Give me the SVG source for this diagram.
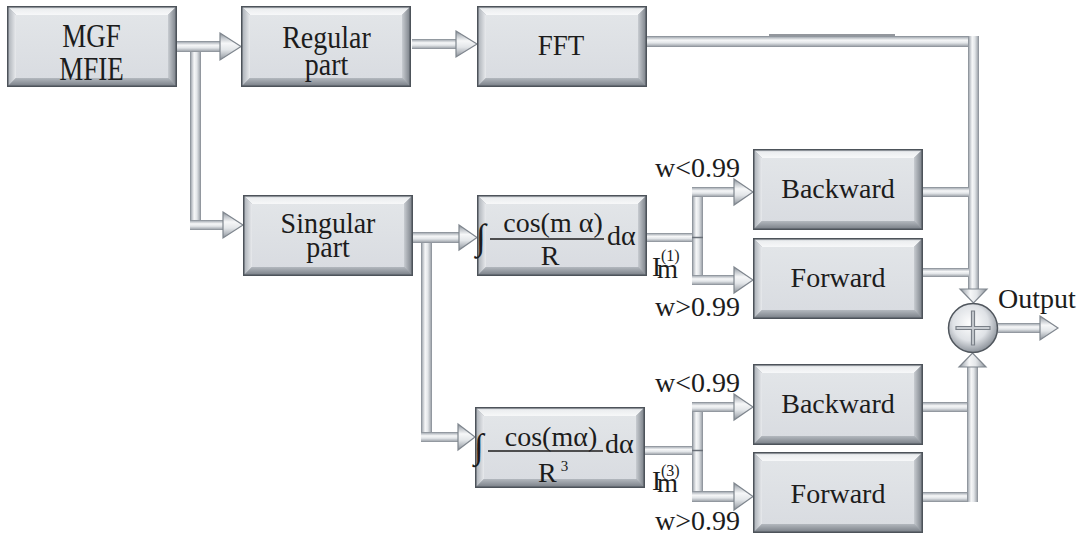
<svg xmlns="http://www.w3.org/2000/svg" xmlns:xlink="http://www.w3.org/1999/xlink" width="1081" height="535" viewBox="0 0 1081 535">
<style>
.t{font-family:"Liberation Serif","Times New Roman",serif;font-size:28px;fill:#1c1c1c}
.m{text-anchor:middle}
.ph{fill:url(#pipeH)}
.pv{fill:url(#pipeV)}
.ah{fill:url(#pipeH);stroke:#7f868e;stroke-width:1.2;stroke-linejoin:miter}
.av{fill:url(#pipeV);stroke:#7f868e;stroke-width:1.2;stroke-linejoin:miter}
.frac{stroke:#1c1c1c;stroke-width:1.5}
</style>
<defs>
<linearGradient id="pipeH" x1="0" y1="0" x2="0" y2="1">
<stop offset="0" stop-color="#7f868e"/><stop offset="0.15" stop-color="#b9bec4"/><stop offset="0.38" stop-color="#f6f7f8"/><stop offset="0.62" stop-color="#e3e6e9"/><stop offset="0.85" stop-color="#b0b5bb"/><stop offset="1" stop-color="#858b93"/>
</linearGradient>
<linearGradient id="pipeV" x1="0" y1="0" x2="1" y2="0">
<stop offset="0" stop-color="#7f868e"/><stop offset="0.15" stop-color="#b9bec4"/><stop offset="0.38" stop-color="#f6f7f8"/><stop offset="0.62" stop-color="#e3e6e9"/><stop offset="0.85" stop-color="#b0b5bb"/><stop offset="1" stop-color="#858b93"/>
</linearGradient>
<linearGradient id="bevTop" x1="0" y1="0" x2="0" y2="1"><stop offset="0" stop-color="#b4b9bf"/><stop offset="0.35" stop-color="#eceef0"/><stop offset="1" stop-color="#f7f8f9"/></linearGradient>
<linearGradient id="bevLeft" x1="0" y1="0" x2="1" y2="0"><stop offset="0" stop-color="#a3a9b0"/><stop offset="1" stop-color="#e8eaed"/></linearGradient>
<linearGradient id="bevRight" x1="0" y1="0" x2="1" y2="0"><stop offset="0" stop-color="#c8ccd1"/><stop offset="1" stop-color="#737981"/></linearGradient>
<linearGradient id="bevBot" x1="0" y1="0" x2="0" y2="1"><stop offset="0" stop-color="#b3b8be"/><stop offset="1" stop-color="#737981"/></linearGradient>
<linearGradient id="face" x1="0" y1="0" x2="0" y2="1"><stop offset="0" stop-color="#e2e5e8"/><stop offset="1" stop-color="#d9dce1"/></linearGradient>
<radialGradient id="sumG" cx="0.45" cy="0.4" r="0.6"><stop offset="0" stop-color="#ffffff"/><stop offset="0.6" stop-color="#dfe2e6"/><stop offset="1" stop-color="#8e949c"/></radialGradient>
<g id="box">
<rect x="0" y="0" width="170" height="81" fill="#9ba1a9"/>
<polygon points="0,0 170,0 161,9 9,9" fill="url(#bevTop)"/>
<polygon points="0,0 9,9 9,72 0,81" fill="url(#bevLeft)"/>
<polygon points="170,0 170,81 161,72 161,9" fill="url(#bevRight)"/>
<polygon points="0,81 9,72 161,72 170,81" fill="url(#bevBot)"/>
<rect x="9" y="9" width="152" height="63" fill="url(#face)"/>
<rect x="0.75" y="0.75" width="168.5" height="79.5" fill="none" stroke="#4d535a" stroke-width="1.5"/>
</g>
</defs>
<rect width="1081" height="535" fill="#ffffff"/>

<g id="connectors">
<!-- MGF -> Regular -->
<rect class="ph" x="176" y="41" width="45" height="11"/>
<polygon class="ah" points="220,33 241,46.5 220,60"/>
<!-- MGF -> Singular -->
<rect class="pv" x="190" y="52" width="11" height="178"/>
<rect class="ph" x="190" y="220" width="34" height="10"/>
<polygon class="ah" points="223,212 243,225 223,238"/>
<!-- Regular -> FFT -->
<rect class="ph" x="412" y="39" width="45" height="10"/>
<polygon class="ah" points="456,31 477,44 456,57"/>
<!-- FFT -> sum -->
<line x1="769" y1="35" x2="895" y2="35" stroke="#6f757c" stroke-width="1.5"/>
<rect class="ph" x="647" y="36" width="332" height="11"/>
<rect class="pv" x="968" y="36" width="11" height="254"/>
<polygon class="av" points="960,289 973.5,303 987,289"/>
<!-- Singular -> Int1 -->
<rect class="ph" x="412" y="232" width="48" height="11"/>
<polygon class="ah" points="459,225 477,237.5 459,250"/>
<!-- Singular -> Int2 -->
<rect class="pv" x="421" y="243" width="11" height="199"/>
<rect class="ph" x="421" y="432" width="38" height="10"/>
<polygon class="ah" points="458,424 475,437 458,450"/>
<!-- Int1 -> split -->
<rect class="ph" x="647" y="233" width="51" height="9"/>
<rect class="pv" x="692" y="187" width="11" height="98"/>
<rect class="ph" x="692" y="187" width="43" height="10"/>
<polygon class="ah" points="734,179 753,192 734,205"/>
<rect class="ph" x="692" y="275" width="43" height="10"/>
<polygon class="ah" points="734,267 753,280 734,293"/>
<line x1="692" y1="237.5" x2="703" y2="237.5" stroke="#6a7078" stroke-width="1.5"/>
<!-- Int2 -> split -->
<rect class="ph" x="645" y="446" width="53" height="9"/>
<rect class="pv" x="692" y="402" width="11" height="100"/>
<rect class="ph" x="692" y="402" width="43" height="10"/>
<polygon class="ah" points="734,394 753,407 734,420"/>
<rect class="ph" x="692" y="491" width="43" height="11"/>
<polygon class="ah" points="734,483 753,496.5 734,510"/>
<line x1="692" y1="450.5" x2="703" y2="450.5" stroke="#6a7078" stroke-width="1.5"/>
<!-- outputs to sum -->
<rect class="ph" x="923" y="187" width="46" height="10"/>
<rect class="ph" x="923" y="268" width="46" height="9"/>
<rect class="ph" x="923" y="402" width="45" height="10"/>
<rect class="ph" x="923" y="492" width="45" height="10"/>
<rect class="pv" x="967" y="366" width="11" height="136"/>
<polygon class="av" points="959,367 972.5,353 986,367"/>
<!-- Output -->
<rect class="ph" x="998" y="323" width="43" height="10"/>
<polygon class="ah" points="1040,316 1058,328 1040,340"/>
</g>

<g id="node-mgf">
<use href="#box" x="7" y="6"/>
<text class="t m" transform="translate(91.5,47) scale(1,1.28)" style="font-size:27px">MGF</text>
<text class="t m" transform="translate(91.5,80) scale(1,1.28)" style="font-size:27px">MFIE</text>
</g>
<g id="node-regular">
<use href="#box" x="241" y="6"/>
<text class="t m" transform="translate(326.5,48) scale(1,1.12)">Regular</text>
<text class="t m" transform="translate(326.5,75) scale(1,1.12)">part</text>
</g>
<g id="node-fft">
<use href="#box" x="477" y="6"/>
<text class="t m" transform="translate(561,55) scale(1,1.1)" style="font-size:27px">FFT</text>
</g>
<g id="node-singular">
<use href="#box" x="243" y="195"/>
<text class="t m" transform="translate(328,233) scale(1,1.08)">Singular</text>
<text class="t m" transform="translate(328,257) scale(1,1.08)">part</text>
</g>
<g id="node-int1">
<use href="#box" x="477" y="195"/>
<text class="t" x="476" y="249" style="font-size:36px">∫</text>
<text class="t m" x="553" y="232">cos(m α)</text>
<line class="frac" x1="490" y1="239" x2="604" y2="239"/>
<text class="t m" x="550" y="265">R</text>
<text class="t" x="607" y="245">dα</text>
</g>
<g id="node-int2">
<use href="#box" x="475" y="407"/>
<text class="t" x="474" y="458" style="font-size:35px">∫</text>
<text class="t m" x="551" y="446">cos(mα)</text>
<line class="frac" x1="488" y1="451" x2="603" y2="451"/>
<text class="t" x="538" y="482">R<tspan dx="4" dy="-11" style="font-size:15px">3</tspan></text>
<text class="t" x="605" y="453">dα</text>
</g>
<g id="node-back1">
<use href="#box" x="753" y="149"/>
<text class="t m" x="838" y="198">Backward</text>
</g>
<g id="node-fwd1">
<use href="#box" x="753" y="238"/>
<text class="t m" x="838" y="287">Forward</text>
</g>
<g id="node-back2">
<use href="#box" x="753" y="364"/>
<text class="t m" x="838" y="413">Backward</text>
</g>
<g id="node-fwd2">
<use href="#box" x="753" y="452"/>
<text class="t m" x="838" y="503">Forward</text>
</g>
<g id="node-sum">
<circle cx="973" cy="328" r="24.5" fill="url(#sumG)" stroke="#50565d" stroke-width="1.5"/>
<path d="M956,326.5 H971.5 V311 H974.5 V326.5 H990 V329.5 H974.5 V345 H971.5 V329.5 H956 Z" fill="#c9cdd2" stroke="#7a8088" stroke-width="1.2"/>
</g>

<g id="labels">
<text class="t" x="655" y="177">w&lt;0.99</text>
<text class="t" x="655" y="316">w&gt;0.99</text>
<text class="t" x="655" y="392">w&lt;0.99</text>
<text class="t" x="655" y="530">w&gt;0.99</text>
<text class="t" x="652" y="276" style="font-size:27px">I<tspan dx="-4" dy="2">m</tspan><tspan dx="-17" dy="-17" style="font-size:16px">(1)</tspan></text>
<text class="t" x="652" y="490" style="font-size:27px">I<tspan dx="-4" dy="2">m</tspan><tspan dx="-17" dy="-16" style="font-size:16px">(3)</tspan></text>
<text class="t" x="998" y="308">Output</text>
</g>
</svg>
